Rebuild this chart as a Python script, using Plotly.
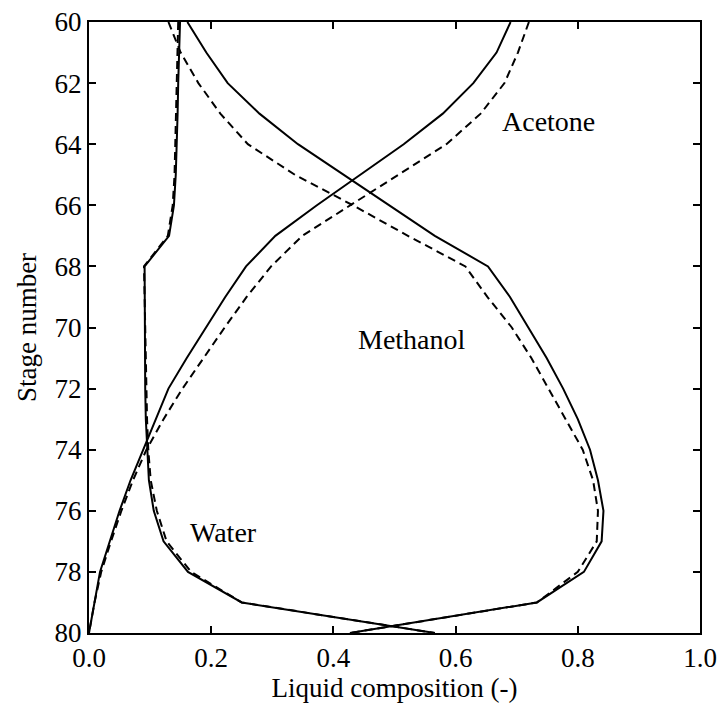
import plotly.graph_objects as go

# Stage numbers (top of the section to the bottom)
stages = list(range(60, 81))

# Liquid mole fractions, solid-line profiles
water_solid = [0.149, 0.147, 0.146, 0.145, 0.144, 0.142, 0.139, 0.131, 0.091, 0.091,
               0.091, 0.091, 0.092, 0.093, 0.095, 0.098, 0.106, 0.122, 0.162, 0.250, 0.566]
methanol_solid = [0.161, 0.192, 0.227, 0.279, 0.342, 0.417, 0.492, 0.566, 0.653, 0.689,
                  0.719, 0.749, 0.776, 0.800, 0.820, 0.833, 0.842, 0.839, 0.810, 0.733, 0.427]
acetone_solid = [0.690, 0.667, 0.629, 0.579, 0.515, 0.443, 0.373, 0.305, 0.257, 0.223,
                 0.191, 0.160, 0.130, 0.109, 0.089, 0.068, 0.050, 0.034, 0.018, 0.009, 0.000]

# Liquid mole fractions, dashed-line profiles
water_dashed = [0.146, 0.145, 0.144, 0.143, 0.142, 0.140, 0.137, 0.129, 0.090, 0.091,
                0.091, 0.092, 0.093, 0.095, 0.097, 0.101, 0.111, 0.127, 0.167, 0.250, 0.566]
methanol_dashed = [0.130, 0.150, 0.179, 0.215, 0.260, 0.337, 0.432, 0.522, 0.616, 0.652,
                   0.692, 0.724, 0.752, 0.780, 0.808, 0.825, 0.833, 0.831, 0.800, 0.733, 0.427]
acetone_dashed = [0.720, 0.702, 0.680, 0.641, 0.585, 0.506, 0.428, 0.349, 0.298, 0.258,
                  0.222, 0.188, 0.153, 0.122, 0.094, 0.072, 0.053, 0.036, 0.020, 0.009, 0.000]

# Component labels: (text, composition, stage)
labels = [("Acetone", 0.752, 63.25), ("Methanol", 0.529, 70.4), ("Water", 0.22, 76.7)]

x_ticks = [0.0, 0.2, 0.4, 0.6, 0.8, 1.0]
y_ticks = list(range(60, 81, 2))

FONT = "Liberation Serif"
FS = 27

fig = go.Figure()

profiles = [
    (water_solid, "solid"), (methanol_solid, "solid"), (acetone_solid, "solid"),
    (water_dashed, "8px,5px"), (methanol_dashed, "8px,5px"), (acetone_dashed, "8px,5px"),
]
for xs, dash in profiles:
    fig.add_trace(go.Scatter(
        x=xs, y=stages, mode="lines",
        line=dict(color="black", width=2, dash=dash),
        showlegend=False, hoverinfo="skip",
    ))

for text, xv, yv in labels:
    fig.add_annotation(x=xv, y=yv, text=text, showarrow=False,
                       font=dict(family=FONT, size=28, color="black"))

axis_common = dict(
    showline=True, linecolor="black", linewidth=2, mirror="ticks",
    ticks="inside", ticklen=7, tickwidth=1.5, tickcolor="black",
    showgrid=False, zeroline=False, automargin=False,
    tickfont=dict(family=FONT, size=FS, color="black"),
)

fig.update_xaxes(
    range=[0, 1], tickvals=x_ticks, tickformat=".1f",
    title=dict(text="Liquid composition (-)", font=dict(family=FONT, size=FS, color="black"),
               standoff=6),
    **axis_common,
)
fig.update_yaxes(
    range=[80, 60], tickvals=y_ticks,
    title=dict(text="Stage number", font=dict(family=FONT, size=FS, color="black"),
               standoff=10),
    **axis_common,
)

fig.update_layout(
    width=721, height=706,
    margin=dict(l=89, r=21, t=22, b=73, autoexpand=False),
    plot_bgcolor="white", paper_bgcolor="white",
    font=dict(family=FONT, size=FS, color="black"),
)

fig.write_html("out.html")
